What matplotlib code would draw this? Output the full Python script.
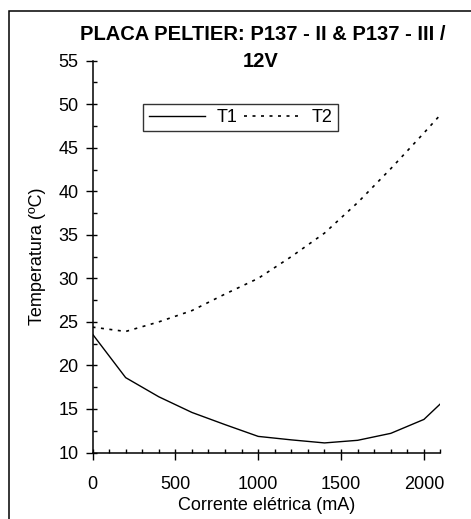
import matplotlib
matplotlib.use("Agg")
import matplotlib.pyplot as plt
from matplotlib.ticker import MultipleLocator
from matplotlib.patches import Rectangle

plt.rcParams['font.family'] = ['Liberation Sans', 'DejaVu Sans']

corrente = [0, 200, 400, 600, 800, 1000, 1200, 1400, 1600, 1800, 2000, 2100]
t1 = [23.6, 18.6, 16.4, 14.6, 13.2, 11.85, 11.45, 11.1, 11.4, 12.2, 13.8, 15.6]
t2 = [24.4, 23.9, 25.0, 26.3, 28.2, 30.0, 32.5, 35.2, 38.7, 42.6, 46.7, 48.8]

title_l1 = "PLACA PELTIER: P137 - II & P137 - III /"
title_l2 = "12V"
xlabel = "Corrente elétrica (mA)"
ylabel = "Temperatura (ºC)"

W, H = 471, 519
fig = plt.figure(figsize=(W / 100, H / 100), dpi=100)
fig.patch.set_facecolor('white')

# outer frame (only top and left visible)
fig.patches.append(Rectangle((9 / W, -0.1), 1.2, (H - 11) / H + 0.1,
                             transform=fig.transFigure, fill=False,
                             edgecolor='black', linewidth=1.1))

ax = fig.add_axes([92.5 / W, (H - 452.5) / H, (440.5 - 92.5) / W, (452.5 - 60.7) / H])
ax.plot(corrente, t1, color='black', lw=1.0, label='T1')
ax.plot(corrente, t2, color='black', lw=1.2, linestyle=(0, (1.8, 3.3)), label='T2')

ax.set_xlim(0, 2100)
ax.set_ylim(10, 55)
ax.xaxis.set_major_locator(MultipleLocator(500))
ax.xaxis.set_minor_locator(MultipleLocator(100))
ax.yaxis.set_major_locator(MultipleLocator(5))
ax.yaxis.set_minor_locator(MultipleLocator(2.5))
ax.xaxis.remove_overlapping_locs = False
ax.yaxis.remove_overlapping_locs = False

for s in ['top', 'right']:
    ax.spines[s].set_visible(False)
for s in ['left', 'bottom']:
    ax.spines[s].set_linewidth(1.1)

ax.tick_params(which='major', direction='out', length=5, width=1.0,
               labelsize=13)
ax.tick_params(which='minor', direction='in', length=2.7, width=1.0)
ax.tick_params(axis='x', which='major', pad=12)
ax.tick_params(axis='y', which='major', pad=5)

ax.set_xlabel(xlabel, fontsize=13, labelpad=3)
ax.set_ylabel(ylabel, fontsize=13, labelpad=9)

fig.text(262.5 / W, 1 - 40 / H, title_l1, ha='center', va='baseline', fontsize=14.5,
         fontweight='bold')
fig.text(261 / W, 1 - 67 / H, title_l2, ha='center', va='baseline', fontsize=14.5,
         fontweight='bold')

leg = ax.legend(loc='center', bbox_to_anchor=(240.5 / W, 1 - 117.5 / H),
                bbox_transform=fig.transFigure, ncol=2, fontsize=13,
                frameon=True, fancybox=False, handlelength=3.1,
                handletextpad=0.65, columnspacing=0.35, borderpad=0.3,
                borderaxespad=0)
leg.get_frame().set_edgecolor('black')
leg.get_frame().set_linewidth(1.0)

fig.savefig('out.png', dpi=100)
